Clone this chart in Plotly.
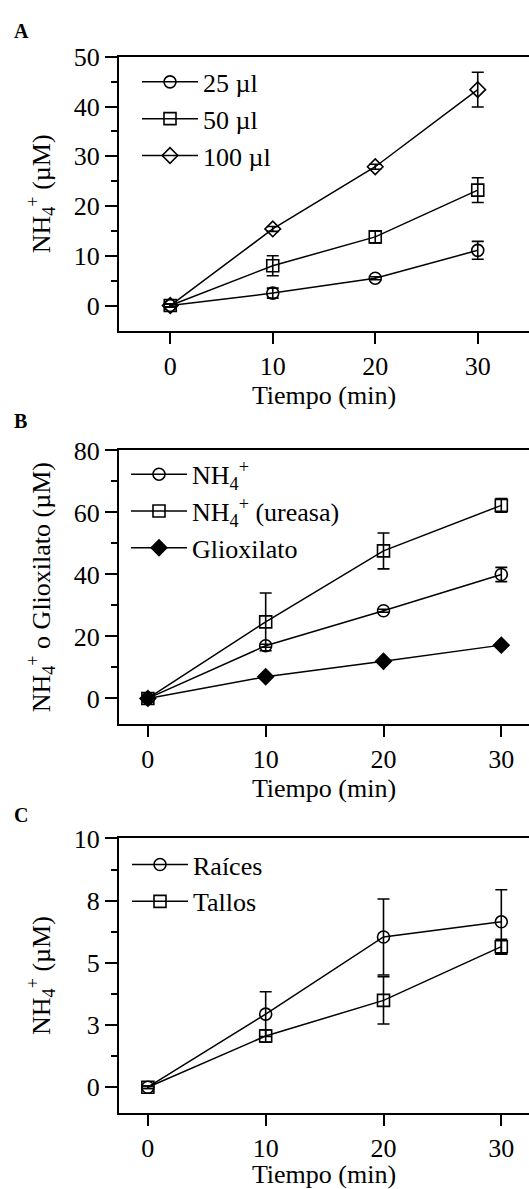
import plotly.graph_objects as go

# ---------------- data ----------------
time = [0, 10, 20, 30]

# Panel A
a_names = ["25 µl", "50 µl", "100 µl"]
a_25 = [0, 2.5, 5.5, 11.1]
a_25_err = [0.3, 1.0, 0.3, 1.8]
a_50 = [0, 8.0, 13.8, 23.2]
a_50_err = [0.3, 2.0, 1.2, 2.5]
a_100 = [0, 15.4, 27.9, 43.4]
a_100_err = [0.3, 0.5, 0.5, 3.5]

# Panel B
b_names = ["NH<sub>4</sub><sup>+</sup>", "NH<sub>4</sub><sup>+</sup> (ureasa)", "Glioxilato"]
b_nh4 = [0, 17.0, 28.3, 40.0]
b_nh4_err = [0.5, 0.5, 0.5, 2.3]
b_urea = [0, 24.7, 47.6, 62.3]
b_urea_err = [0.5, 9.3, 5.8, 2.2]
b_glio = [0, 7.0, 12.0, 17.2]
b_glio_err = [0.3, 0.3, 0.3, 0.3]

# Panel C
c_names = ["Raíces", "Tallos"]
c_raices = [0, 2.94, 6.04, 6.65]
c_raices_err = [0.05, 0.9, 1.53, 1.29]
c_tallos = [0, 2.06, 3.49, 5.65]
c_tallos_err = [0.05, 0.25, 0.95, 0.3]

x_ticks = [0, 10, 20, 30]
a_yticks = [0, 10, 20, 30, 40, 50]
a_yminor = [5, 15, 25, 35, 45]
b_yticks = [0, 20, 40, 60, 80]
b_yminor = [10, 30, 50, 70]
c_yticks = [0, 2.5, 5, 7.5, 10]
c_yticktext = ["0", "3", "5", "8", "10"]
c_yminor = [1.25, 3.75, 6.25, 8.75]

# ---------------- style ----------------
W, H = 529, 1189
FONT = "Liberation Serif, Times New Roman, serif"
FS = 26
LW = 1.5

def py(px):
    return 1 - px / H

fig = go.Figure()

def add(x, y, err, name, symbol, xa, ya, leg):
    fig.add_trace(go.Scatter(
        x=x, y=y, name=name, mode="lines+markers",
        line=dict(color="black", width=LW),
        marker=dict(symbol=symbol, size=12, color="black",
                    line=dict(color="black", width=1.6)),
        error_y=dict(type="data", array=err, visible=True,
                     color="black", thickness=1.6, width=6),
        xaxis=xa, yaxis=ya, legend=leg,
    ))

add(time, a_25, a_25_err, a_names[0], "circle-open", "x", "y", "legend")
add(time, a_50, a_50_err, a_names[1], "square-open", "x", "y", "legend")
add(time, a_100, a_100_err, a_names[2], "diamond-open", "x", "y", "legend")

add(time, b_nh4, b_nh4_err, b_names[0], "circle-open", "x2", "y2", "legend2")
add(time, b_urea, b_urea_err, b_names[1], "square-open", "x2", "y2", "legend2")
add(time, b_glio, b_glio_err, b_names[2], "diamond", "x2", "y2", "legend2")

add(time, c_raices, c_raices_err, c_names[0], "circle-open", "x3", "y3", "legend3")
add(time, c_tallos, c_tallos_err, c_names[1], "square-open", "x3", "y3", "legend3")

xdom = [119 / W, 1.0]
doms = {
    "A": [py(320.7), py(43.3)],
    "B": [py(718.3), py(441.7)],
    "C": [py(1111.7), py(834.3)],
}

def xaxis(rng, anchor):
    return dict(
        domain=xdom, range=rng, anchor=anchor,
        tickvals=x_ticks, ticks="outside", ticklen=11, tickwidth=2, tickcolor="black",
        showline=True, linewidth=2, linecolor="black", mirror=True,
        showgrid=False, zeroline=False,
        tickfont=dict(family=FONT, size=FS, color="black"),
        title=dict(text="Tiempo (min)", font=dict(family=FONT, size=FS, color="black"), standoff=6),
    )

def yaxis(dom, rng, tv, minor, title, anchor, tt=None):
    d = dict(
        domain=dom, range=rng, anchor=anchor,
        tickvals=tv, ticks="outside", ticklen=12, tickwidth=2, tickcolor="black",
        minor=dict(tickvals=minor, ticks="outside", ticklen=6, tickwidth=2, tickcolor="black"),
        showline=True, linewidth=2, linecolor="black", mirror=False,
        showgrid=False, zeroline=False,
        tickfont=dict(family=FONT, size=FS, color="black"),
        title=dict(text=title, font=dict(family=FONT, size=FS, color="black"), standoff=16),
    )
    if tt is not None:
        d["ticktext"] = tt
    return d

def legend(ytop_px, x_px):
    return dict(
        x=x_px / W, y=py(ytop_px), xanchor="left", yanchor="top",
        bgcolor="rgba(0,0,0,0)", borderwidth=0, itemwidth=56,
        font=dict(family=FONT, size=FS, color="black"),
    )

fig.update_layout(
    width=W, height=H,
    margin=dict(l=0, r=0, t=0, b=0),
    paper_bgcolor="white", plot_bgcolor="white",
    showlegend=True,
    xaxis=xaxis([-5, 35], "y"),
    yaxis=yaxis(doms["A"], [-5.1, 50], a_yticks, a_yminor,
                "NH<sub>4</sub><sup>+</sup> (µM)", "x"),
    xaxis2=xaxis([-2.45, 32.35], "y2"),
    yaxis2=yaxis(doms["B"], [-8.2, 80], b_yticks, b_yminor,
                 "NH<sub>4</sub><sup>+</sup> o Glioxilato (µM)", "x2"),
    xaxis3=xaxis([-2.45, 32.35], "y3"),
    yaxis3=yaxis(doms["C"], [-1.02, 10], c_yticks, c_yminor,
                 "NH<sub>4</sub><sup>+</sup> (µM)", "x3", tt=c_yticktext),
    legend=legend(45, 137),
    legend2=legend(442, 126),
    legend3=legend(837, 127),
)

for letter, ypx in [("A", 17), ("B", 412), ("C", 811)]:
    fig.add_annotation(
        text="<b>%s</b>" % letter, xref="paper", yref="paper",
        x=12 / W, y=py(ypx), xanchor="left", yanchor="middle",
        showarrow=False, font=dict(family=FONT, size=20, color="black"),
    )

fig.write_html("out.html")
